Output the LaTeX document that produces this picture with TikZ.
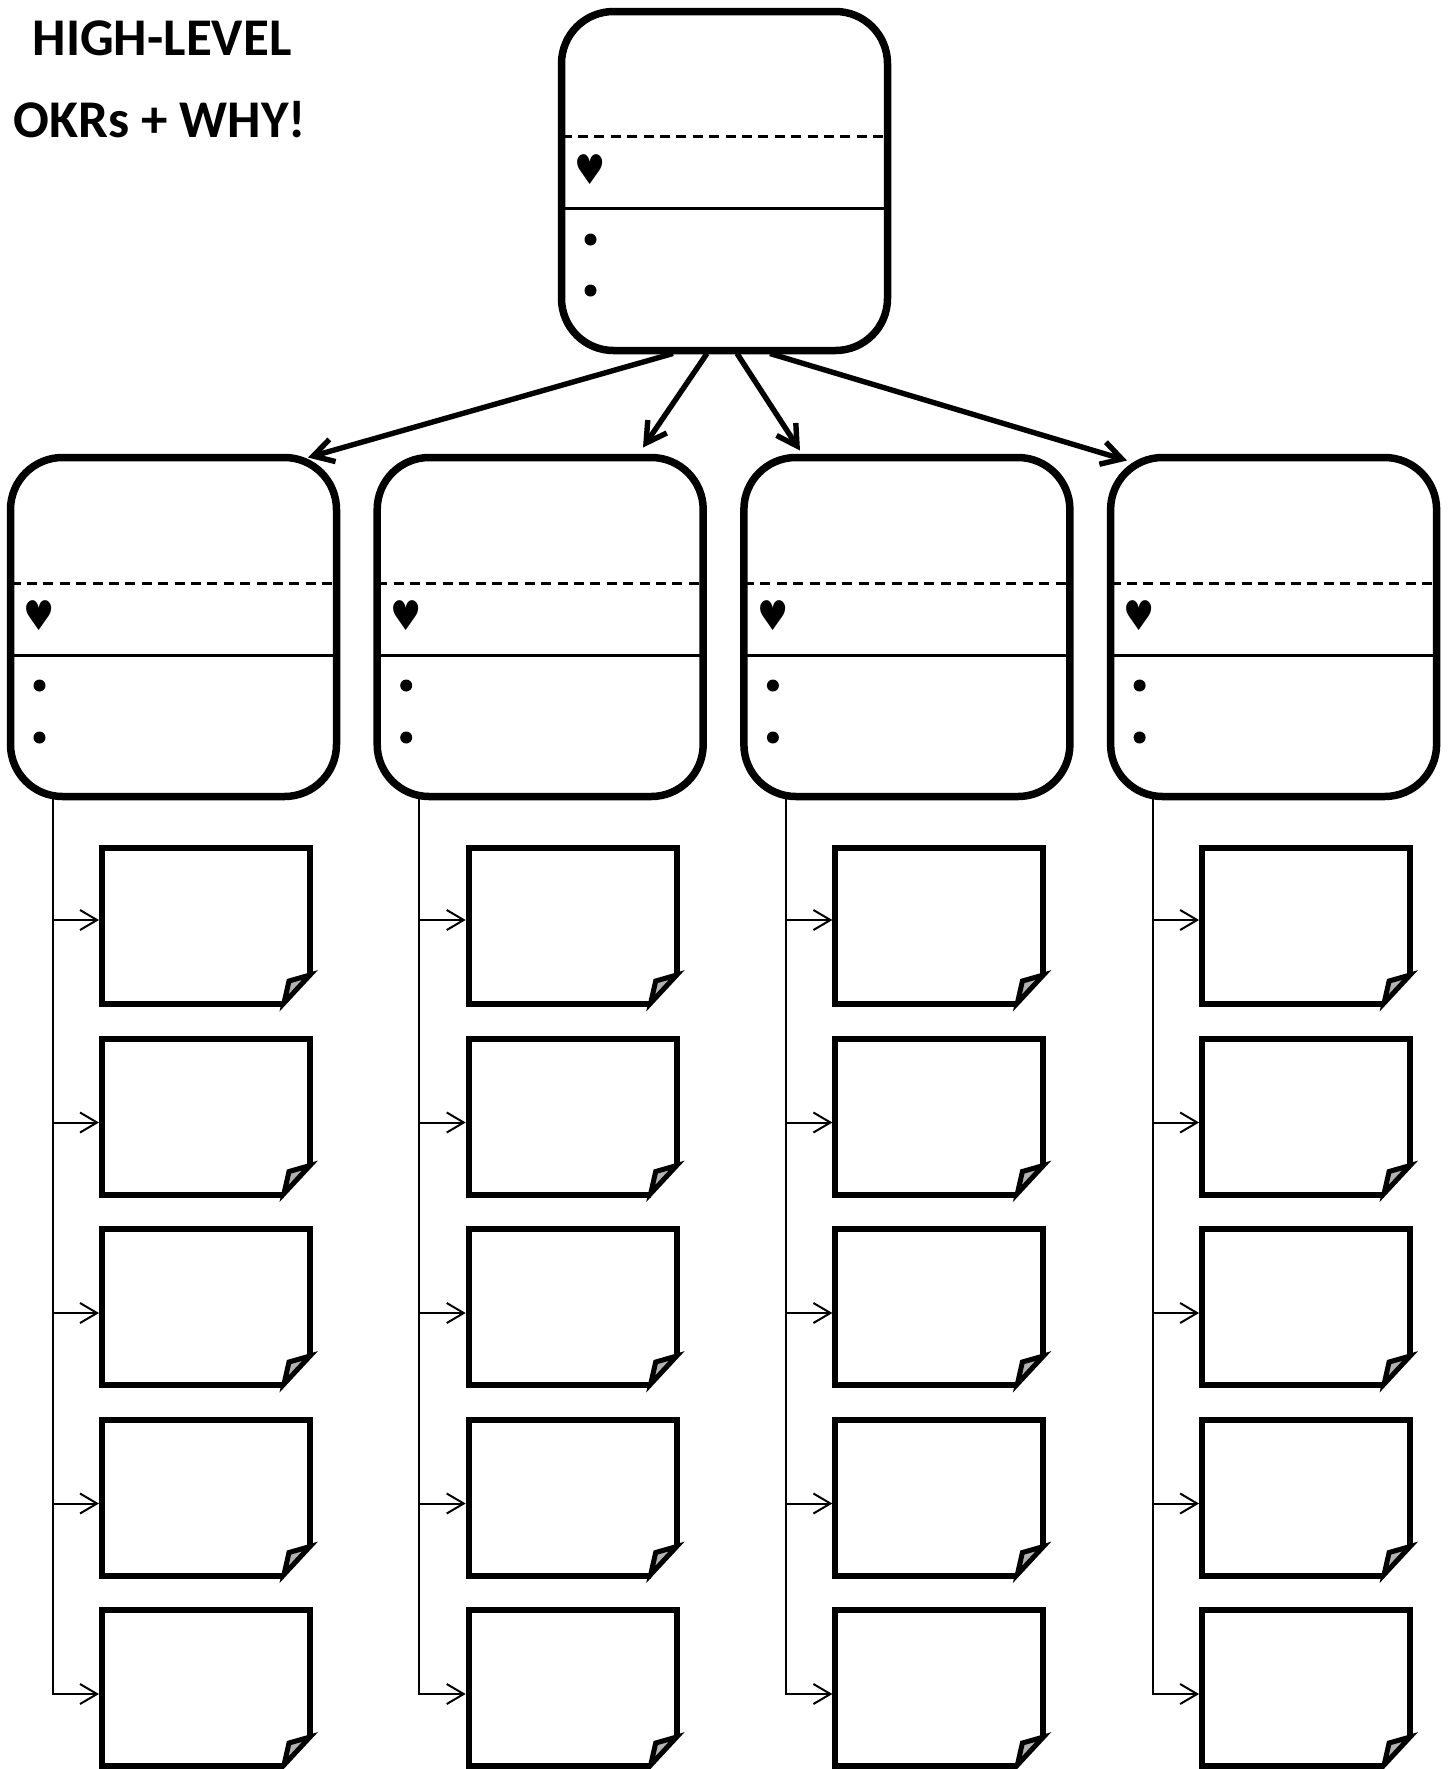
\documentclass[tikz,border=0pt]{standalone}
\usepackage{fontspec}
\setmainfont{Carlito}
\newfontfamily\heartfont{DejaVu Sans}
\usetikzlibrary{arrows.meta,calc}
\begin{document}
\begin{tikzpicture}[x=0.5pt,y=-0.5pt,
  okr/.style={draw, line width=3.75pt, rounded corners=26pt, minimum width=163pt, minimum height=169.5pt, inner sep=0pt, outer sep=0pt},
  divdash/.style={line width=1.3pt, dash pattern=on 5pt off 3.2pt},
  divline/.style={line width=1.1pt},
  heartmark/.style={font=\heartfont\fontsize{20.5}{20.5}\selectfont, inner sep=0pt, xscale=0.85},
  bulletdot/.style={circle, fill, inner sep=0pt, minimum size=6pt},
  bigarrow/.style={line width=2.7pt, -{Straight Barb[length=10pt,width=11.5pt]}},
  smallarrow/.style={line width=1pt, -{Straight Barb[length=8.5pt,width=10pt]}, shorten >=1.5pt},
  notebox/.style={minimum width=104pt, minimum height=78pt, inner sep=0pt, outer sep=0pt},
  noteedge/.style={line width=3pt, line join=miter},
  flap/.style={line width=2.5pt, fill=gray!60, line join=miter},
  title/.style={font=\bfseries\fontsize{26.5}{30}\selectfont, inner sep=0pt, anchor=base}
]
\useasboundingbox (0,0) rectangle (1450,1769);

% title
\node[title] (t1) at (162,55) {HIGH-LEVEL};
\node[title] (t2) at (160,137) {OKRs + WHY!};

% top box
\node[okr] (top) at (724.5,181) {};
\draw[divdash] ($(top.north west)+(0,125)$) -- ($(top.north east)+(0,125)$);
\draw[divline] ($(top.north west)+(0,197)$) -- ($(top.north east)+(0,197)$);
\node[heartmark] (topheart) at ($(top.north west)+(29,158)$) {♥};
\node[bulletdot] (topb1) at ($(top.north west)+(29,228)$) {};
\node[bulletdot] (topb2) at ($(top.north west)+(29,279)$) {};

% middle boxes, trunks and notes
\foreach \i in {0,1,2,3} {
  \pgfmathsetmacro\L{10.5+366.7*\i}
  \node[okr] (mid\i) at (\L+163,627) {};
  \draw[divdash] ($(mid\i.north west)+(0,126)$) -- ($(mid\i.north east)+(0,126)$);
  \draw[divline] ($(mid\i.north west)+(0,198)$) -- ($(mid\i.north east)+(0,198)$);
  \node[heartmark] (heart\i) at ($(mid\i.north west)+(29,158)$) {♥};
  \node[bulletdot] (ba\i) at ($(mid\i.north west)+(29,228)$) {};
  \node[bulletdot] (bb\i) at ($(mid\i.north west)+(29,280)$) {};
  \foreach \j in {0,...,4} {
    \pgfmathsetmacro\cy{926+190.5*\j}
    \pgfmathsetmacro\ay{\cy+ifthenelse(\j==0,-6,6)}
    \node[notebox] (note\i-\j) at (\L+195.5,\cy) {};
    \draw[noteedge] ($(note\i-\j.center)+(104,49)$) -- (note\i-\j.north east) -- (note\i-\j.north west) -- (note\i-\j.south west) -- ($(note\i-\j.center)+(78,78)$);
    \draw[flap] ($(note\i-\j.center)+(78,77)$) -- ($(note\i-\j.center)+(83,55)$) -- ($(note\i-\j.center)+(104,49)$) -- cycle;
    \coordinate (tap\i-\j) at (\L+42,\ay);
  }
  \foreach \j in {0,...,3} {
    \draw[smallarrow] (tap\i-\j) -- (tap\i-\j -| note\i-\j.west);
  }
  \draw[smallarrow] (tap\i-0 |- mid\i.south) -- (tap\i-4) -- (tap\i-4 -| note\i-4.west);
}

% arrows from top box
\draw[bigarrow] ($(top.south)+(-51.5,3)$) -- ($(mid0.north)+(134.5,0)$);
\draw[bigarrow] ($(top.south)+(-17.5,3)$) -- ($(mid1.north)+(102.8,-10)$);
\draw[bigarrow] ($(top.south)+(12.5,3)$) -- ($(mid2.north)+(-106.9,-7)$);
\draw[bigarrow] ($(top.south)+(45.5,3)$) -- ($(mid3.north)+(-146.6,3)$);
\end{tikzpicture}
\end{document}
